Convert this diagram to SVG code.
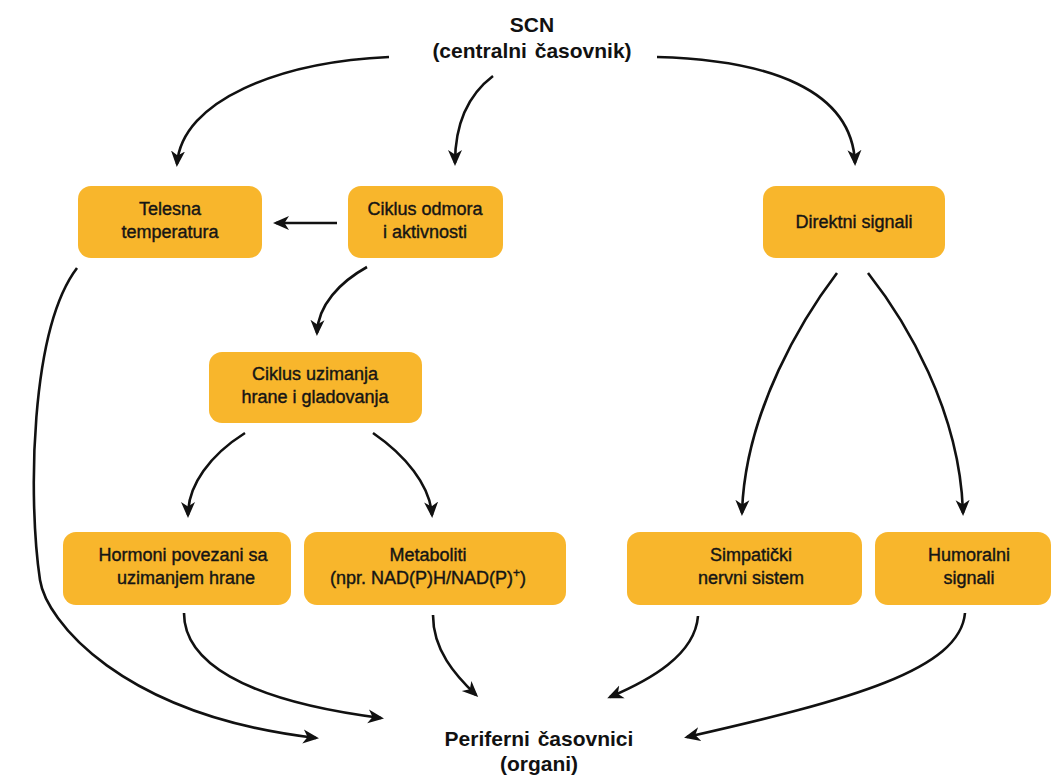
<svg xmlns="http://www.w3.org/2000/svg" width="1051" height="776" viewBox="0 0 1051 776">
<style>
.box{fill:#F8B62C;}
.t{font-family:"Liberation Sans",Arial,sans-serif;font-size:18px;fill:#151515;stroke:#151515;stroke-width:0.4;text-anchor:middle;}
.h{font-family:"Liberation Sans",Arial,sans-serif;font-size:21px;font-weight:bold;fill:#111;text-anchor:middle;word-spacing:2px;}
.c{fill:none;stroke:#111;stroke-width:2.6;marker-end:url(#ah);}
</style>
<defs>
<marker id="ah" markerUnits="userSpaceOnUse" markerWidth="18" markerHeight="16" refX="13" refY="7" orient="auto" viewBox="0 0 18 14">
<path d="M0,0 L16,7 L0,14 L4.5,7 Z" fill="#111"/>
</marker>
</defs>
<rect width="1051" height="776" fill="#fff"/>
<g id="scn">
<text class="h" x="532" y="32">SCN</text>
<text class="h" x="532" y="58">(centralni časovnik)</text>
</g>
<g id="telesna">
<rect class="box" x="78" y="186" width="184" height="72" rx="13"/>
<text class="t" x="170" y="215">Telesna</text>
<text class="t" x="170" y="238">temperatura</text>
</g>
<g id="odmor">
<rect class="box" x="348" y="186" width="155" height="72" rx="13"/>
<text class="t" x="425" y="215">Ciklus odmora</text>
<text class="t" x="425" y="238">i aktivnosti</text>
</g>
<g id="direktni">
<rect class="box" x="763" y="186" width="182" height="72" rx="13"/>
<text class="t" x="854" y="228">Direktni signali</text>
</g>
<g id="uzimanje">
<rect class="box" x="209" y="352" width="213" height="71" rx="13"/>
<text class="t" x="315" y="380">Ciklus uzimanja</text>
<text class="t" x="315" y="403">hrane i gladovanja</text>
</g>
<g id="hormoni">
<rect class="box" x="63" y="532" width="228" height="73" rx="13"/>
<text class="t" x="183" y="561">Hormoni povezani sa</text>
<text class="t" x="186" y="584">uzimanjem hrane</text>
</g>
<g id="metaboliti">
<rect class="box" x="304" y="532" width="262" height="73" rx="13"/>
<text class="t" x="428" y="561">Metaboliti</text>
<text class="t" x="428" y="584">(npr. NAD(P)H/NAD(P)<tspan font-size="12" dy="-7">+</tspan><tspan dy="7">)</tspan></text>
</g>
<g id="simpaticki">
<rect class="box" x="627" y="532" width="235" height="73" rx="13"/>
<text class="t" x="751" y="561">Simpatički</text>
<text class="t" x="751" y="584">nervni sistem</text>
</g>
<g id="humoralni">
<rect class="box" x="875" y="532" width="176" height="73" rx="13"/>
<text class="t" x="969" y="561">Humoralni</text>
<text class="t" x="969" y="584">signali</text>
</g>
<g id="periferni">
<text class="h" x="539" y="746">Periferni časovnici</text>
<text class="h" x="539" y="771">(organi)</text>
</g>
<g id="connectors">
<path class="c" d="M389,57 C280,62 182,100 177,164"/>
<path class="c" d="M493,76 C468,95 455,125 455,163"/>
<path class="c" d="M657,57 C770,60 852,90 855,163"/>
<path class="c" d="M337,223 L276,223"/>
<path class="c" d="M367,267 C340,282 318,305 317,333"/>
<path class="c" d="M77,268 C30,330 28,500 40,580 C46,620 120,715 316,738"/>
<path class="c" d="M245,433 C210,455 188,485 188,515"/>
<path class="c" d="M373,433 C405,455 430,485 432,515"/>
<path class="c" d="M837,273 C805,315 745,410 742,513"/>
<path class="c" d="M868,273 C905,320 960,410 963,513"/>
<path class="c" d="M184,613 C184,660 240,700 381,718"/>
<path class="c" d="M433,615 C433,650 455,675 476,695"/>
<path class="c" d="M698,616 C695,655 650,680 610,697"/>
<path class="c" d="M965,613 C960,670 850,700 687,737"/>
</g>
</svg>
